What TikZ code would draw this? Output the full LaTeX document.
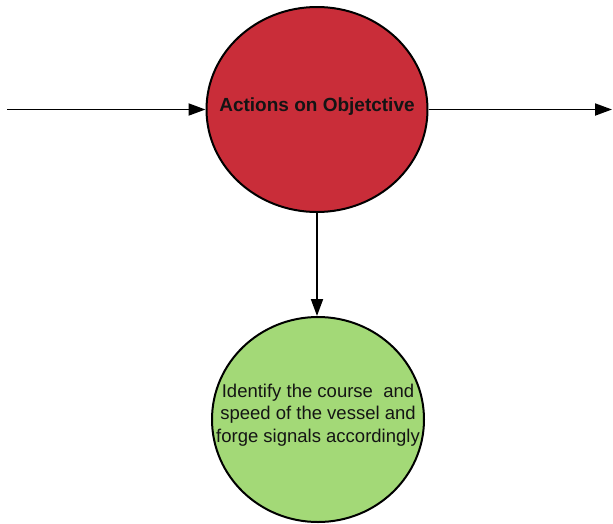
\documentclass[tikz,border=0pt]{standalone}
\usepackage{fontspec}
\setmainfont{Liberation Sans}
\usetikzlibrary{arrows.meta,shapes.geometric}
\definecolor{ballred}{RGB}{201,45,57}
\definecolor{ballgreen}{RGB}{163,217,119}
\definecolor{ink}{RGB}{20,20,20}
\begin{document}
\begin{tikzpicture}[x=1pt,y=-1pt,
  ball/.style={ellipse,draw=black,line width=2pt,inner sep=0pt},
  flow/.style={line width=1.9pt,-{Triangle[length=17pt,width=12pt]}},
  bigtext/.style={font=\fontsize{19}{22}\selectfont\bfseries,text=ink},
  bodytext/.style={font=\fontsize{18.5}{22.5}\selectfont,align=center,text=ink}
]
\useasboundingbox (0,0) rectangle (613,523);

% main stage
\node[ball,fill=ballred,minimum width=221pt,minimum height=205pt,
  label={[bigtext,yshift=2.5pt]center:Actions on Objetctive}] (act) at (317,109.5) {};

% resulting activity
\node[ball,fill=ballgreen,minimum width=212pt,minimum height=205pt,
  label={[bodytext,yshift=4.5pt]center:Identify the course~ and\\speed of the vessel and\\forge signals accordingly}] (goal) at (318,419.5) {};

% incoming and outgoing flow
\coordinate (in) at (7,109.5);
\coordinate (out) at (612,109.5);
\draw[flow] (in) -- (act.west);
\draw[flow] (act.east) -- (out);
\draw[flow] (act.south) -- (act.south |- goal.north);
\end{tikzpicture}
\end{document}
